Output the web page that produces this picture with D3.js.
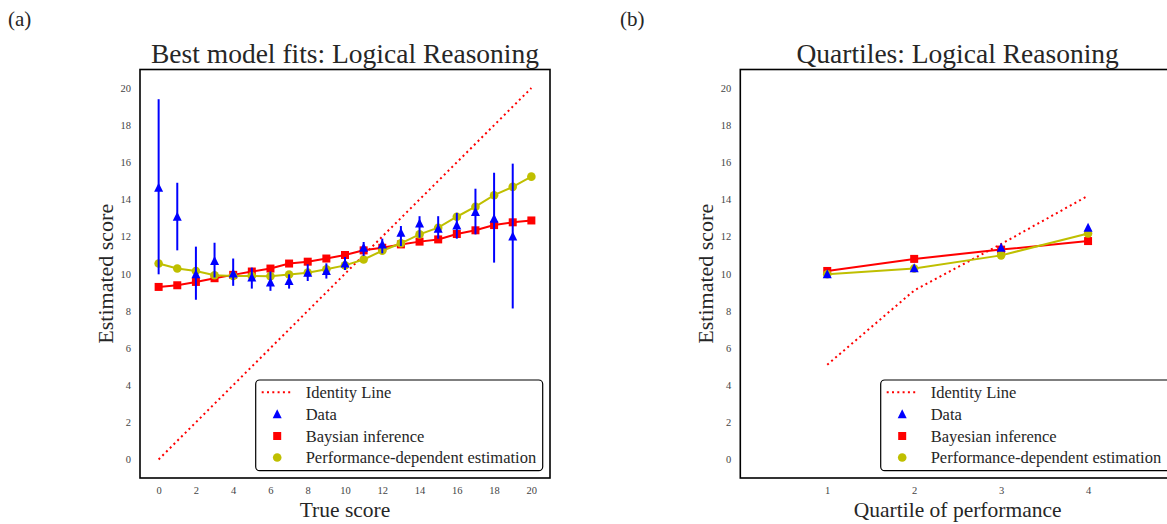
<!DOCTYPE html>
<html><head><meta charset="utf-8">
<script src="https://cdn.jsdelivr.net/npm/d3@7"></script>
<style>body{margin:0;background:#fff}svg{display:block}</style>
</head><body>
<svg id="c" width="1167" height="524"></svg>
<script>
// ---------- data ----------
const trueScores = [0,1,2,3,4,5,6,7,8,9,10,11,12,13,14,15,16,17,18,19,20];
const dataX = [0,1,2,3,4,5,6,7,8,9,10,11,12,13,14,15,16,17,18,19];
const dataMean = [14.63,13.07,9.97,10.69,10.01,9.8,9.53,9.61,10.06,10.15,10.55,11.4,11.58,12.21,12.71,12.43,12.6,13.32,12.96,12.0];
const dataLow  = [9.97,11.26,8.6,9.8,9.35,9.2,9.08,9.2,9.61,9.74,10.2,10.96,11.1,11.49,11.94,11.89,11.89,12.12,10.6,8.13];
const dataHigh = [19.4,14.9,11.46,11.67,10.82,10.33,10.12,9.97,10.51,10.56,10.9,11.71,11.89,12.57,13.1,13.1,13.28,14.58,15.44,15.93];
const bayes = [9.29,9.38,9.56,9.76,9.94,10.12,10.28,10.55,10.65,10.82,11.01,11.26,11.4,11.58,11.73,11.85,12.14,12.34,12.62,12.77,12.87];
const perf  = [10.55,10.28,10.15,9.92,9.88,9.88,9.87,9.96,10.06,10.24,10.45,10.77,11.24,11.64,12.12,12.48,13.07,13.61,14.23,14.68,15.23];
const identityX = [0,20];
const identityY = [0,20];

const quartiles = [1,2,3,4];
const qIdentity = [5.1,9.1,11.6,14.2];
const qData  = [9.97,10.3,11.4,12.48];
const qBayes = [10.15,10.8,11.3,11.76];
const qPerf  = [9.97,10.28,10.99,12.17];

const yTicks = [0,2,4,6,8,10,12,14,16,18,20];
const xTicksA = [0,2,4,6,8,10,12,14,16,18,20];
const xTicksB = [1,2,3,4];

const legendA = ["Identity Line","Data","Baysian inference","Performance-dependent estimation"];
const legendB = ["Identity Line","Data","Bayesian inference","Performance-dependent estimation"];

// ---------- drawing ----------
const svg = d3.select("#c");
const FONT = "'Liberation Serif','Times New Roman',serif";
const TXT = "#262626";
const RED = "#ff0000", YEL = "#bfbf00", BLUE = "#0000ff";

function tri(g, x, y, s){
  const h = s;
  g.append("path").attr("d", `M${x},${y-h/2-1} L${x+s/2+0.5},${y+h/2} L${x-s/2-0.5},${y+h/2} Z`).attr("fill",BLUE);
}
function sq(g,x,y,s){ g.append("rect").attr("x",x-s/2).attr("y",y-s/2).attr("width",s).attr("height",s).attr("fill",RED); }
function circ(g,x,y,r){ g.append("circle").attr("cx",x).attr("cy",y).attr("r",r).attr("fill",YEL); }

function panel(opt){
  const g = svg.append("g");
  const x = d3.scaleLinear().domain(opt.xDom).range([opt.left, opt.right]);
  const y = d3.scaleLinear().domain([-1,21]).range([478, 69.5]);

  g.append("rect").attr("x",opt.left).attr("y",69.5).attr("width",opt.right-opt.left).attr("height",478-69.5)
    .attr("fill","none").attr("stroke","#000").attr("stroke-width",1.6);

  const ax = g.append("g").attr("transform",`translate(0,478)`)
    .call(d3.axisBottom(x).tickValues(opt.xTicks).tickSize(0).tickPadding(9).tickFormat(d3.format("d")));
  const ay = g.append("g").attr("transform",`translate(${opt.left},0)`)
    .call(d3.axisLeft(y).tickValues(yTicks).tickSize(0).tickPadding(9).tickFormat(d3.format("d")));
  [ax,ay].forEach(a=>{
    a.select(".domain").remove();
    a.selectAll("text").attr("font-family",FONT).attr("font-size",10.5).attr("fill","#444");
  });

  const cx = (opt.left+opt.right)/2;
  g.append("text").attr("x",cx).attr("y",63).attr("text-anchor","middle")
    .attr("font-family",FONT).attr("font-size",27.5).attr("fill",TXT).text(opt.title);
  g.append("text").attr("x",cx).attr("y",517).attr("text-anchor","middle")
    .attr("font-family",FONT).attr("font-size",21.5).attr("fill",TXT).text(opt.xlabel);
  g.append("text").attr("transform",`translate(${opt.left-27},${(69.5+478)/2}) rotate(-90)`).attr("text-anchor","middle")
    .attr("font-family",FONT).attr("font-size",22).attr("fill",TXT).text("Estimated score");
  svg.append("text").attr("x",opt.tagX).attr("y",26).attr("font-family",FONT).attr("font-size",21).attr("fill",TXT).text(opt.tag);

  const line = d3.line().x(d=>x(d[0])).y(d=>y(d[1]));

  g.append("path").datum(d3.zip(opt.idX, opt.idY)).attr("d",line)
    .attr("fill","none").attr("stroke",RED).attr("stroke-width",2).attr("stroke-dasharray","2,3.3");

  g.append("path").datum(d3.zip(opt.xs, opt.bayes)).attr("d",line)
    .attr("fill","none").attr("stroke",RED).attr("stroke-width",2);
  opt.xs.forEach((v,i)=>sq(g,x(v),y(opt.bayes[i]),8));

  g.append("path").datum(d3.zip(opt.xs, opt.perf)).attr("d",line)
    .attr("fill","none").attr("stroke",YEL).attr("stroke-width",2);
  opt.xs.forEach((v,i)=>circ(g,x(v),y(opt.perf[i]),4.3));

  if (opt.low){
    opt.dx.forEach((v,i)=>{
      g.append("line").attr("x1",x(v)).attr("x2",x(v)).attr("y1",y(opt.low[i])).attr("y2",y(opt.high[i]))
        .attr("stroke",BLUE).attr("stroke-width",2);
    });
  }
  opt.dx.forEach((v,i)=>tri(g,x(v),y(opt.data[i]),8));

  const L = opt.legend;
  const lg = g.append("g");
  lg.append("rect").attr("x",L.x).attr("y",380).attr("width",L.w).attr("height",90.7).attr("rx",4)
    .attr("fill","#fff").attr("stroke","#000").attr("stroke-width",1.2);
  const rows = [392.3,414.3,436,457.5];
  lg.append("line").attr("x1",L.x+6).attr("x2",L.x+36).attr("y1",rows[0]).attr("y2",rows[0])
    .attr("stroke",RED).attr("stroke-width",2).attr("stroke-dasharray","2,3.3");
  tri(lg, L.x+21.5, rows[1], 8);
  sq(lg, L.x+21.5, rows[2], 8);
  circ(lg, L.x+21.5, rows[3], 4.3);
  opt.legendText.forEach((t,i)=>{
    lg.append("text").attr("x",L.x+50).attr("y",rows[i]).attr("dy","0.35em")
      .attr("font-family",FONT).attr("font-size",16.5).attr("fill",TXT).text(t);
  });
}

panel({left:140,right:550,xDom:[-1,21],xTicks:xTicksA,title:"Best model fits: Logical Reasoning",
  xlabel:"True score",tag:"(a)",tagX:8,idX:identityX,idY:identityY,xs:trueScores,bayes:bayes,perf:perf,
  dx:dataX,data:dataMean,low:dataLow,high:dataHigh,legend:{x:255.7,w:287},legendText:legendA});

panel({left:740.3,right:1175,xDom:[0,5],xTicks:xTicksB,title:"Quartiles: Logical Reasoning",
  xlabel:"Quartile of performance",tag:"(b)",tagX:620,idX:quartiles,idY:qIdentity,xs:quartiles,bayes:qBayes,perf:qPerf,
  dx:quartiles,data:qData,legend:{x:880.7,w:290},legendText:legendB});
</script>
</body></html>
